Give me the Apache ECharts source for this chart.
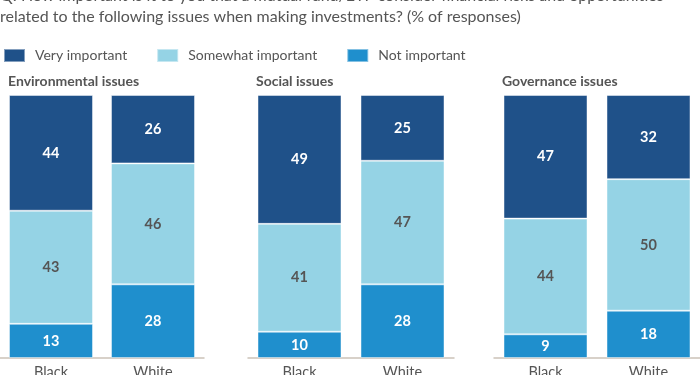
<!DOCTYPE html>
<html><head><meta charset="utf-8">
<script src="https://cdn.jsdelivr.net/npm/echarts@6/dist/echarts.min.js"></script>
<style>html,body{margin:0;padding:0;background:#fff}#c{width:700px;height:375px}</style>
</head><body><div id="c"></div>
<script>
const groups = ['Black', 'White'];
const panels = ['Environmental issues', 'Social issues', 'Governance issues'];
const seriesNames = ['Very important', 'Somewhat important', 'Not important'];
// values per panel [Black, White]
const veryImportant = [[44, 26], [49, 25], [47, 32]];
const somewhatImportant = [[43, 46], [41, 47], [44, 50]];
const notImportant = [[13, 28], [10, 28], [9, 18]];
const titleLines = ['Q: How important is it to you that a mutual fund/ETF consider financial risks and opportunities',
  'related to the following issues when making investments? (% of responses)'];

const colors = ['#1f5189', '#95d3e5', '#1f8fcd'];
const labelColors = ['#ffffff', '#555555', '#ffffff'];
const FONT = 'Lato';
const gridLefts = [0, 248, 494];
const gridWidths = [204, 206, 206];

const grids = [], xAxes = [], yAxes = [], series = [], titles = [];
titles.push({text: titleLines.join('\n'), left: 0, top: -15, padding: 0,
  textStyle: {fontFamily: FONT, fontSize: 16, fontWeight: 'normal', color: '#555', lineHeight: 21}});
const valueSets = [veryImportant, somewhatImportant, notImportant];
panels.forEach((p, i) => {
  grids.push({left: gridLefts[i], width: gridWidths[i], top: 95, bottom: 17, outerBoundsMode: 'none', containLabel: false});
  xAxes.push({type: 'category', gridIndex: i, data: groups,
    axisLine: {lineStyle: {color: '#cbc2b8', width: 1.5}}, axisTick: {show: false},
    axisLabel: {fontFamily: FONT, fontSize: 14.5, color: '#555', margin: 7}});
  yAxes.push({type: 'value', gridIndex: i, min: 0, max: 100, show: false});
  titles.push({text: p, left: gridLefts[i] + 8, top: 74, padding: 0,
    textStyle: {fontFamily: FONT, fontSize: 14, fontWeight: 'bold', color: '#555'}});
  // stack bottom-up: Not important, Somewhat, Very
  [2, 1, 0].forEach(k => {
    series.push({type: 'bar', name: seriesNames[k], xAxisIndex: i, yAxisIndex: i,
      stack: 's' + i, barWidth: 84, data: valueSets[k][i],
      itemStyle: {color: colors[k], borderColor: 'rgba(255,255,255,0.45)', borderWidth: 1},
      label: {show: true, position: 'inside', fontFamily: FONT, fontSize: 14.5, fontWeight: 'bold', color: labelColors[k]},
      emphasis: {disabled: true}, animation: false});
  });
});

const chart = echarts.init(document.getElementById('c'));
chart.setOption({
  animation: false,
  title: titles,
  legend: {data: seriesNames, left: 3, top: 48, padding: 0, itemWidth: 21, itemHeight: 13, itemGap: 29,
    icon: 'rect', textStyle: {fontFamily: FONT, fontSize: 14, color: '#555', padding: [0, 0, 0, 5]}},
  grid: grids, xAxis: xAxes, yAxis: yAxes, series: series
});
</script></body></html>
